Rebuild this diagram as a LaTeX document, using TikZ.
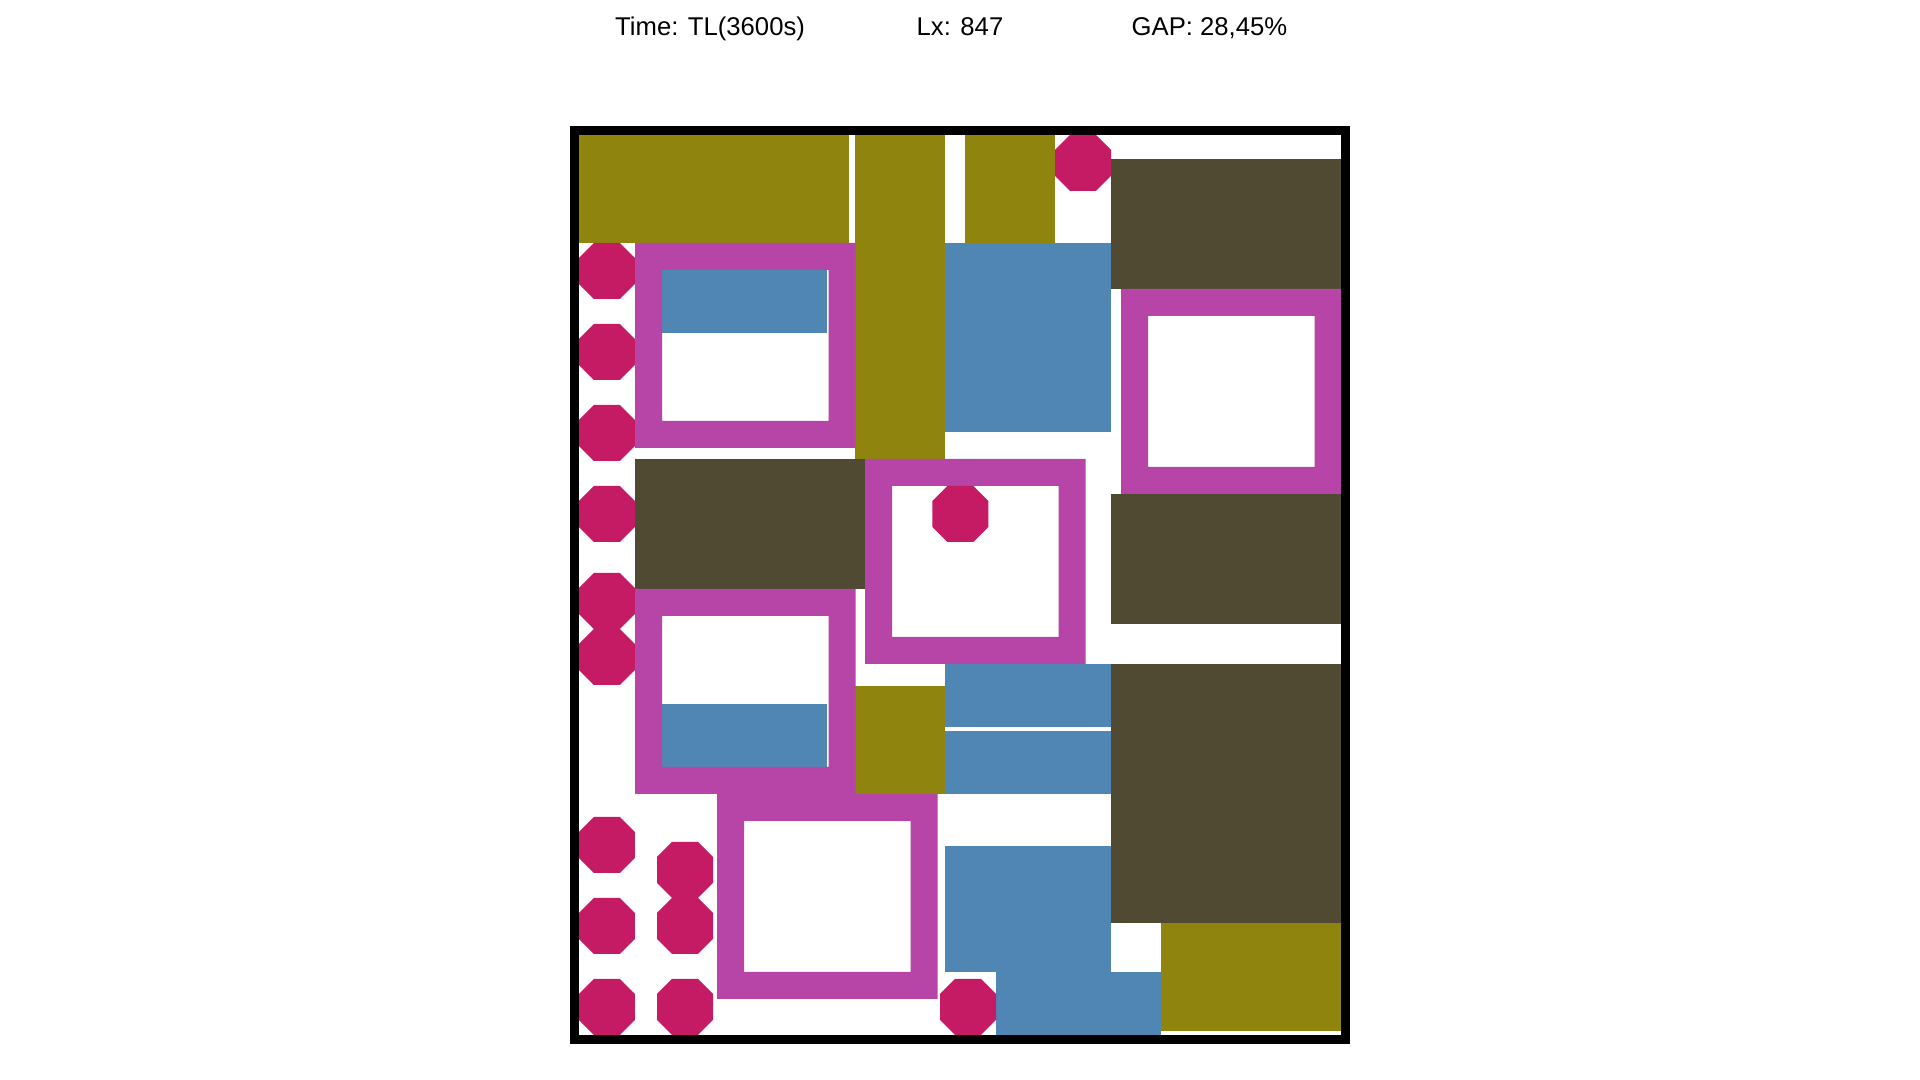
\documentclass[tikz,border=0pt]{standalone}
\usepackage{fontspec}
\setmainfont{Liberation Sans}
\definecolor{olivebox}{RGB}{142,132,14}
\definecolor{darkbox}{RGB}{80,74,50}
\definecolor{bluebox}{RGB}{79,134,179}
\definecolor{ringbox}{RGB}{183,69,168}
\definecolor{octbox}{RGB}{197,26,100}

\begin{document}
\begin{tikzpicture}[x=0.01cm, y=-0.01cm, lbl/.style={anchor=base west, inner sep=0pt, font=\fontsize{7.3pt}{9pt}\selectfont}, olv/.style={fill=olivebox}, drk/.style={fill=darkbox}, blu/.style={fill=bluebox}, ring/.style={fill=ringbox, even odd rule}, oct/.style={fill=octbox}]
	\useasboundingbox (0,0) rectangle (1920,1080);
	\node[lbl] (time) at (614.5,36) {Time: TL(3600s)};
	\node[lbl] (lx) at (916,36) {Lx: 847};
	\node[lbl] (gap) at (1131,36) {GAP: 28,45\%};
	\foreach \xa/\ya/\xb/\yb in {578.6/135/849/243, 855/135/945/459, 965/135/1055/243, 855/686/945/794, 1161/923/1341/1031} {\fill[olv] (\xa,\ya) rectangle (\xb,\yb);}
	\foreach \xa/\ya/\xb/\yb in {1111/159/1341/289, 635/459/865/589, 1111/494/1341/624, 1111/664/1341/923} {\fill[drk] (\xa,\ya) rectangle (\xb,\yb);}
	\foreach \xa/\ya/\xb/\yb in {662/270/827/333, 945/243/1111/432, 662/704/827/767, 945/664/1111/727, 945/731/1111/794, 945/846/1111/972, 996/972/1161/1035} {\fill[blu] (\xa,\ya) rectangle (\xb,\yb);}
	\foreach \x/\y in {635/243, 1121/289, 865/459, 635/589, 717/794} {\fill[ring] (\x,\y) rectangle ++(220.5,205) (\x+27,\y+27) rectangle ++(166.5,151);}
	\foreach \x/\y in {606.8/271, 606.8/352, 606.8/433, 606.8/514, 606.8/601, 606.8/657, 606.8/845, 606.8/926, 606.8/1007, 685/870, 685/926, 685/1007, 1083/163, 960.4/514, 968/1007}
		{\fill[oct] (\x-13,\y-28) -- (\x+13,\y-28) -- (\x+28,\y-13) -- (\x+28,\y+13) -- (\x+13,\y+28) -- (\x-13,\y+28) -- (\x-28,\y+13) -- (\x-28,\y-13) -- cycle;}
	\draw[line width=0.09cm] (574.3,130.3) rectangle (1345.5,1039.5);
\end{tikzpicture}
\end{document}
